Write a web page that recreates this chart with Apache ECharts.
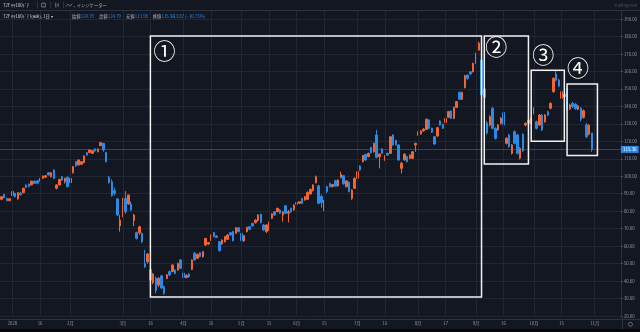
<!DOCTYPE html>
<html>
<head>
<meta charset="utf-8">
<script src="https://cdn.jsdelivr.net/npm/echarts@6/dist/echarts.min.js"></script>
<style>
  html, body { margin: 0; padding: 0; background: #131722; }
  #chart { width: 640px; height: 332px; }
</style>
</head>
<body>
<div id="chart"></div>
<script>
// Trading sessions per month (the last month holds the empty slots to the right of the last bar)
const monthDays = {
  '2019-12': [26, 27, 30, 31],
  '2020-01': [2, 3, 6, 7, 8, 9, 10, 13, 14, 15, 16, 17, 21, 22, 23, 24, 27, 28, 29, 30, 31],
  '2020-02': [3, 4, 5, 6, 7, 10, 11, 12, 13, 14, 18, 19, 20, 21, 24, 25, 26, 27, 28],
  '2020-03': [2, 3, 4, 5, 6, 9, 10, 11, 12, 13, 16, 17, 18, 19, 20, 23, 24, 25, 26, 27, 30, 31],
  '2020-04': [1, 2, 3, 6, 7, 8, 9, 13, 14, 15, 16, 17, 20, 21, 22, 23, 24, 27, 28, 29, 30],
  '2020-05': [1, 4, 5, 6, 7, 8, 11, 12, 13, 14, 15, 18, 19, 20, 21, 22, 26, 27, 28, 29],
  '2020-06': [1, 2, 3, 4, 5, 8, 9, 10, 11, 12, 15, 16, 17, 18, 19, 22, 23, 24, 25, 26, 29, 30],
  '2020-07': [1, 2, 6, 7, 8, 9, 10, 13, 14, 15, 16, 17, 20, 21, 22, 23, 24, 27, 28, 29, 30, 31],
  '2020-08': [3, 4, 5, 6, 7, 10, 11, 12, 13, 14, 17, 18, 19, 20, 21, 24, 25, 26, 27, 28, 31],
  '2020-09': [1, 2, 3, 4, 8, 9, 10, 11, 14, 15, 16, 17, 18, 21, 22, 23, 24, 25, 28, 29, 30],
  '2020-10': [1, 2, 5, 6, 7, 8, 9, 12, 13, 14, 15, 16, 19, 20, 21, 22, 23, 26, 27, 28, 29, 30],
  '2020-11': [2, 3, 4, 5, 6, 9, 10, 11, 12, 13]
};

// Daily OHLC, one value per session from 2019-12-26 to 2020-10-30
const opens = [
  86.8, 89.6, 87.3, 86.0, 88.9, 90.2, 87.0, 90.4, 90.6, 95.0,
  95.5, 95.0, 97.2, 97.4, 97.2, 98.8, 99.4, 102.0, 99.7, 103.6,
  93.1, 95.0, 99.7, 96.9, 99.4, 96.3, 102.0, 108.3, 106.4, 106.8,
  107.8, 113.5, 113.5, 113.1, 115.6, 114.0, 117.5, 118.8, 113.5, 99.4,
  96.8, 91.7, 87.0, 71.5, 79.1, 87.3, 84.1, 84.1, 74.6, 67.7,
  67.7, 67.3, 50.1, 51.1, 46.5, 39.2, 41.6, 37.7, 43.0, 36.8,
  41.5, 45.4, 45.4, 46.3, 46.3, 52.1, 44.6, 42.0, 44.0, 46.7,
  55.9, 53.0, 56.2, 53.9, 60.6, 61.2, 63.5, 67.7, 65.8, 62.5,
  61.2, 62.5, 63.9, 67.7, 68.3, 67.3, 70.5, 67.3, 62.9, 68.3,
  71.1, 73.0, 73.4, 74.6, 78.2, 72.1, 68.3, 69.2, 75.9, 79.7,
  79.7, 80.7, 77.8, 83.1, 78.8, 81.6, 80.7, 84.0, 84.5, 87.3,
  86.4, 86.8, 89.8, 91.7, 96.3, 94.5, 88.5, 81.0, 94.0, 95.9,
  94.0, 97.4, 94.4, 99.2, 100.3, 94.0, 96.5, 87.3, 93.1, 98.8,
  105.9, 108.3, 112.5, 111.2, 116.5, 114.0, 123.6, 111.2, 115.6, 109.3,
  113.1, 113.1, 123.6, 120.5, 117.9, 104.5, 109.3, 111.2, 110.2, 110.2,
  117.9, 123.6, 124.2, 125.9, 126.8, 132.2, 127.4, 122.6, 123.0, 131.6,
  129.7, 130.7, 133.7, 137.3, 133.1, 139.4, 148.0, 144.0, 150.7, 157.9,
  159.8, 159.8, 164.6, 172.2, 166.5, 150.0, 130.5, 129.3, 138.9, 127.4,
  126.5, 130.3, 136.4, 118.8, 123.6, 113.1, 125.5, 123.6, 110.3, 124.0,
  129.3, 132.2, 130.3, 136.0, 131.2, 129.3, 135.0, 131.2, 136.9, 138.9,
  148.4, 158.5, 155.1, 144.6, 147.0, 150.3, 138.5, 141.7, 141.3, 138.3,
  138.9, 133.7, 129.3, 124.0, 124.79
];
const closes = [
  88.3, 87.7, 86.0, 87.1, 91.2, 88.3, 90.6, 89.4, 93.1, 93.6,
  94.0, 97.2, 95.9, 96.0, 98.8, 100.1, 100.3, 100.7, 102.0, 98.8,
  95.0, 98.2, 97.8, 98.8, 94.0, 98.8, 105.5, 105.9, 109.3, 108.3,
  111.6, 112.1, 115.0, 114.6, 114.4, 115.6, 119.2, 115.0, 108.3, 96.3,
  89.0, 90.2, 77.8, 74.9, 87.3, 79.7, 89.2, 80.6, 77.8, 64.4,
  71.1, 62.5, 48.2, 55.5, 40.5, 44.0, 34.5, 41.6, 36.0, 33.0,
  43.5, 43.5, 49.2, 44.4, 50.1, 47.3, 42.0, 43.3, 42.5, 52.0,
  52.0, 55.3, 54.0, 56.8, 64.4, 62.0, 66.4, 65.4, 65.0, 57.4,
  63.5, 65.4, 66.4, 66.4, 63.1, 70.5, 68.3, 63.1, 66.0, 70.7,
  69.6, 71.5, 74.9, 77.8, 73.4, 69.2, 72.1, 73.6, 78.4, 77.8,
  81.6, 78.8, 79.7, 78.8, 79.7, 79.7, 83.5, 84.9, 85.4, 84.5,
  88.3, 90.8, 92.5, 95.0, 99.7, 84.5, 84.9, 86.0, 91.2, 94.0,
  95.2, 94.4, 97.8, 101.1, 95.6, 97.3, 91.2, 92.1, 98.8, 102.6,
  103.6, 111.8, 109.3, 113.1, 113.5, 118.8, 110.8, 112.7, 113.1, 111.6,
  112.1, 122.6, 117.9, 118.0, 109.3, 107.4, 112.7, 108.3, 112.1, 114.0,
  118.8, 125.3, 125.9, 127.0, 132.6, 127.4, 125.1, 118.4, 127.8, 129.3,
  127.4, 133.1, 137.0, 133.1, 139.4, 142.7, 144.0, 148.0, 157.6, 156.0,
  158.5, 164.6, 170.3, 176.1, 146.5, 145.0, 124.7, 134.1, 127.4, 121.7,
  129.3, 133.2, 129.3, 121.7, 116.9, 117.9, 118.8, 113.1, 116.0, 114.5,
  130.3, 130.3, 133.2, 138.9, 127.4, 135.0, 126.5, 135.0, 135.0, 141.7,
  156.0, 155.0, 151.6, 148.4, 145.5, 138.5, 140.8, 139.8, 138.6, 140.2,
  132.6, 137.5, 122.6, 129.23, 115.36
];
const lows = [
  86.3, 87.3, 85.6, 85.7, 88.6, 87.9, 86.6, 89.0, 90.2, 93.3,
  93.7, 94.8, 95.6, 95.7, 97.0, 98.6, 99.0, 100.4, 99.3, 98.4,
  92.5, 94.7, 97.4, 95.8, 93.6, 96.0, 101.6, 105.4, 106.1, 106.4,
  107.5, 111.7, 113.2, 112.8, 114.1, 113.7, 117.2, 114.0, 107.9, 95.8,
  88.3, 89.0, 77.3, 68.3, 76.5, 78.5, 83.6, 80.1, 71.5, 63.8,
  66.5, 61.7, 47.5, 50.0, 39.5, 38.2, 33.0, 36.5, 35.5, 32.2,
  41.0, 42.8, 45.0, 43.8, 45.9, 46.8, 41.5, 41.6, 41.9, 46.3,
  51.6, 52.6, 53.6, 53.5, 60.2, 60.8, 63.1, 65.0, 64.6, 56.9,
  60.8, 62.1, 63.5, 66.0, 62.7, 66.9, 67.9, 62.7, 62.5, 67.9,
  69.2, 71.1, 73.0, 74.2, 73.0, 68.7, 67.5, 68.8, 75.5, 77.4,
  79.3, 78.4, 74.0, 78.4, 73.5, 79.2, 80.3, 83.6, 84.1, 84.0,
  86.0, 86.4, 89.4, 91.3, 95.9, 84.0, 82.0, 80.0, 90.4, 93.6,
  93.6, 94.0, 94.0, 98.8, 95.2, 93.6, 90.8, 86.5, 92.7, 98.4,
  103.2, 107.9, 108.9, 110.8, 113.1, 113.6, 110.3, 104.5, 112.7, 108.9,
  111.7, 112.7, 117.5, 117.6, 108.9, 101.6, 108.9, 107.9, 109.8, 109.8,
  114.0, 123.2, 123.8, 125.5, 126.4, 127.0, 124.7, 118.0, 122.6, 128.9,
  127.0, 130.3, 133.3, 132.7, 132.7, 139.0, 143.6, 143.6, 150.3, 155.2,
  158.1, 159.4, 164.2, 171.8, 145.0, 140.0, 124.0, 128.5, 126.8, 121.0,
  126.0, 129.6, 128.8, 118.2, 116.4, 112.4, 118.2, 112.5, 109.6, 114.0,
  128.6, 129.7, 129.8, 135.4, 126.8, 128.7, 125.9, 130.6, 134.4, 138.3,
  147.8, 154.2, 151.0, 144.0, 144.5, 137.5, 138.0, 139.0, 138.0, 137.8,
  131.5, 133.0, 121.8, 123.5, 113.98
];
const highs = [
  88.6, 89.9, 87.6, 87.4, 91.4, 90.5, 90.8, 90.9, 93.5, 95.3,
  95.8, 97.4, 97.5, 97.7, 99.0, 100.4, 100.6, 102.4, 102.3, 104.0,
  95.4, 98.5, 100.1, 99.1, 99.8, 99.2, 105.8, 108.7, 109.6, 108.6,
  111.9, 113.8, 115.3, 114.9, 115.9, 115.9, 119.6, 119.1, 113.8, 100.1,
  98.2, 93.5, 87.6, 77.8, 87.7, 91.5, 89.5, 85.5, 78.5, 68.3,
  71.6, 67.8, 57.8, 56.0, 47.5, 44.6, 42.6, 42.2, 43.5, 37.4,
  44.0, 46.0, 49.6, 46.8, 50.5, 52.6, 45.1, 43.8, 44.5, 52.4,
  56.6, 55.7, 56.6, 57.1, 64.7, 62.4, 66.7, 68.1, 66.2, 63.0,
  63.9, 65.8, 66.8, 68.1, 68.7, 70.9, 70.9, 67.7, 66.4, 71.1,
  71.5, 73.4, 75.3, 78.2, 78.6, 72.6, 72.5, 74.0, 78.8, 80.1,
  82.0, 81.1, 80.1, 83.5, 80.7, 82.0, 83.9, 85.3, 85.8, 87.7,
  88.7, 91.2, 92.9, 95.4, 100.4, 95.0, 89.5, 86.4, 94.6, 96.3,
  95.6, 98.0, 98.2, 102.6, 100.7, 97.7, 96.9, 92.5, 99.2, 103.0,
  106.3, 112.2, 112.9, 113.5, 116.9, 119.2, 126.5, 113.1, 116.0, 112.0,
  113.5, 123.0, 124.0, 120.9, 118.3, 108.3, 113.1, 111.6, 112.5, 114.4,
  119.2, 125.7, 126.3, 127.4, 133.0, 132.6, 127.8, 123.0, 128.2, 132.0,
  130.1, 133.5, 137.4, 137.7, 139.8, 143.1, 148.4, 148.4, 158.0, 158.3,
  160.2, 165.0, 170.7, 177.0, 168.0, 151.5, 131.5, 134.8, 139.5, 128.0,
  129.8, 133.8, 137.2, 122.3, 124.2, 118.4, 126.1, 124.2, 116.6, 124.6,
  130.8, 133.0, 133.8, 139.5, 131.8, 135.6, 135.6, 135.6, 137.5, 142.3,
  156.6, 160.3, 155.7, 149.0, 148.0, 150.8, 141.5, 142.5, 141.8, 140.8,
  139.5, 138.2, 130.5, 129.8, 124.79
];

// Time-axis tick labels (first session of the month and mid-month marks)
const timeLabels = {
  '2020-01-02': '2020', '2020-01-16': '16', '2020-02-03': '2月', '2020-03-02': '3月',
  '2020-03-16': '16', '2020-04-01': '4月', '2020-04-16': '16', '2020-05-01': '5月',
  '2020-05-15': '15', '2020-06-01': '6月', '2020-06-15': '15', '2020-07-01': '7月',
  '2020-07-16': '16', '2020-08-03': '8月', '2020-08-17': '17', '2020-09-01': '9月',
  '2020-09-16': '16', '2020-10-01': '10月', '2020-10-15': '15', '2020-11-02': '11月'
};

// Highlighted phases: session range and price range of each frame
const zones = [
  { mark: '①', from: '2020-03-16', to: '2020-09-03', high: 180.3, low: 30.9 },
  { mark: '②', from: '2020-09-04', to: '2020-09-29', high: 180.3, low: 107.0 },
  { mark: '③', from: '2020-09-30', to: '2020-10-16', high: 160.6, low: 120.0 },
  { mark: '④', from: '2020-10-19', to: '2020-11-03', high: 152.8, low: 111.8 }
];

const symbolName = '72F ﾔﾔ100ﾄﾞｱ';

// ---- build ----
const dates = [];
Object.keys(monthDays).forEach(m => monthDays[m].forEach(d => dates.push(m + '-' + String(d).padStart(2, '0'))));
const candles = opens.map((o, i) => [o, closes[i], lows[i], highs[i]]);

const UP = '#ef6633';
const DOWN = '#2a8ae6';
const FONT = '"Noto Sans CJK JP", "Noto Sans", sans-serif';
const AXIS_TEXT = '#9598a1';
const GRID = '#222632';
const SEP = '#2e323e';

const last = candles.length - 1;
const lastClose = closes[last];
const change = closes[last] - closes[last - 1];
const changePct = change / closes[last - 1] * 100;
const fmt = v => v.toFixed(2);
const signed = v => (v < 0 ? '−' : '+') + Math.abs(v).toFixed(2);

const chart = echarts.init(document.getElementById('chart'), null, { renderer: 'canvas', width: 640, height: 332 });

chart.setOption({
  backgroundColor: '#131722',
  animation: false,
  grid: { left: 0, right: 18, top: 1.5, bottom: 16 },
  xAxis: {
    type: 'category',
    data: dates,
    boundaryGap: true,
    axisLine: { show: false },
    axisTick: { show: false },
    splitLine: { show: false },
    axisLabel: {
      interval: (i, v) => v in timeLabels,
      formatter: v => timeLabels[v] || '',
      color: AXIS_TEXT, fontSize: 4.3, fontFamily: FONT, margin: 5.5
    }
  },
  yAxis: {
    type: 'value',
    position: 'right',
    min: 20, max: 200, interval: 10,
    axisLine: { show: true, lineStyle: { color: SEP } },
    axisTick: { show: true, length: 2, lineStyle: { color: '#50535e' } },
    axisLabel: {
      color: AXIS_TEXT, fontSize: 4.3, fontFamily: FONT, margin: 3,
      formatter: v => (v >= 200 ? '' : v.toFixed(2))
    },
    splitLine: { show: true, lineStyle: { color: GRID, width: 1 } }
  },
  series: [
    {
      // vertical time grid lines at the labelled sessions
      type: 'line', data: [], silent: true, z: 1,
      markLine: {
        silent: true, symbol: ['none', 'none'], animation: false,
        label: { show: false },
        lineStyle: { color: GRID, width: 1, type: 'solid' },
        data: Object.keys(timeLabels).map(d => ({ xAxis: d }))
      }
    },
    {
      type: 'candlestick',
      data: candles,
      barWidth: 2,
      z: 3,
      itemStyle: { color: UP, color0: DOWN, borderColor: UP, borderColor0: DOWN, borderWidth: 1 },
      markLine: {
        silent: true, symbol: ['none', 'none'], animation: false,
        data: [{
          yAxis: lastClose,
          lineStyle: { color: 'rgba(42,138,230,0.45)', width: 1, type: 'solid' },
          label: {
            show: true, position: 'end', distance: 0,
            formatter: fmt(lastClose),
            color: '#ffffff', backgroundColor: '#2a8ae6',
            fontSize: 4.5, fontFamily: FONT, padding: [1.5, 2, 1, 2]
          }
        }]
      }
    }
  ]
});

// ---- overlays: toolbar, legend row, frames and phase marks ----
const g = [];
const txt = (x, y, text, fill, size, align) => g.push({
  type: 'text', x, y, silent: true, z: 100,
  style: { text, fill, fontSize: size || 4.3, fontFamily: FONT, align: align || 'left', verticalAlign: 'middle' }
});
const line = (x1, y1, x2, y2, stroke, w) => g.push({
  type: 'line', silent: true, z: 100,
  shape: { x1, y1, x2, y2 }, style: { stroke, lineWidth: w || 1 }
});

// toolbar band
g.push({ type: 'rect', silent: true, z: 90, shape: { x: 0, y: 0, width: 640, height: 10 }, style: { fill: '#131722' } });
line(0, 10.5, 640, 10.5, SEP);
txt(3, 5.2, symbolName, '#d1d4dc');
line(37.5, 1.5, 37.5, 8.5, SEP);
g.push({ type: 'rect', silent: true, z: 100, shape: { x: 41.7, y: 3.2, width: 3.6, height: 3.8 }, style: { fill: 'none', stroke: '#9598a1', lineWidth: 0.7 } });
line(50.5, 1.5, 50.5, 8.5, SEP);
line(55.8, 2.8, 55.8, 7.4, '#9598a1', 0.8);
line(58.2, 3.4, 58.2, 6.8, '#9598a1', 0.8);
line(63.5, 1.5, 63.5, 8.5, SEP);
g.push({ type: 'polyline', silent: true, z: 100, shape: { points: [[66, 6.6], [68, 4.2], [70, 6.2], [72.2, 3.8]] }, style: { fill: 'none', stroke: '#9598a1', lineWidth: 0.7 } });
txt(73.2, 6.6, '+', '#9598a1', 3.5);
txt(76.7, 5.2, 'インジケーター', '#b2b5be');
txt(637, 5.2, 'TradingView', '#4c505b', 4, 'right');

// legend row
txt(3, 16.7, symbolName + ' I(ask), 1日 ▾', '#d1d4dc');
const legendItems = [
  ['始値', opens[last], 72], ['高値', highs[last], 99], ['安値', lows[last], 126], ['終値', closes[last], 152.7]
];
legendItems.forEach(([k, v, x]) => { txt(x, 16.7, k, '#b2b5be'); txt(x + 8.8, 16.7, fmt(v), DOWN); });
txt(171, 16.7, signed(change) + ' (' + signed(changePct) + '%)', DOWN);

// bottom time-axis strip
line(0, 319.5, 640, 319.5, SEP);
line(622.5, 316, 622.5, 329, SEP);
g.push({ type: 'circle', silent: true, z: 100, shape: { cx: 630.5, cy: 324.3, r: 2 }, style: { fill: 'none', stroke: '#787b86', lineWidth: 0.8 } });
g.push({ type: 'rect', silent: true, z: 100, shape: { x: 0, y: 329, width: 640, height: 3 }, style: { fill: '#05060a' } });

// frames with their phase numbers
const markOffsets = [[14, 14.5], [12, 11], [12, -16], [11, -16]];
zones.forEach((z, k) => {
  const p1 = chart.convertToPixel({ gridIndex: 0 }, [dates.indexOf(z.from), z.high]);
  const p2 = chart.convertToPixel({ gridIndex: 0 }, [dates.indexOf(z.to), z.low]);
  g.push({
    type: 'rect', silent: true, z: 110,
    shape: { x: p1[0], y: p1[1], width: p2[0] - p1[0], height: p2[1] - p1[1] },
    style: { fill: 'none', stroke: '#f2f2f2', lineWidth: 1.5 }
  });
  g.push({
    type: 'text', silent: true, z: 110,
    x: p1[0] + markOffsets[k][0], y: p1[1] + markOffsets[k][1],
    style: { text: z.mark, fill: '#ffffff', fontSize: 22, fontFamily: FONT, align: 'center', verticalAlign: 'middle' }
  });
});

chart.setOption({ graphic: g });
</script>
</body>
</html>
